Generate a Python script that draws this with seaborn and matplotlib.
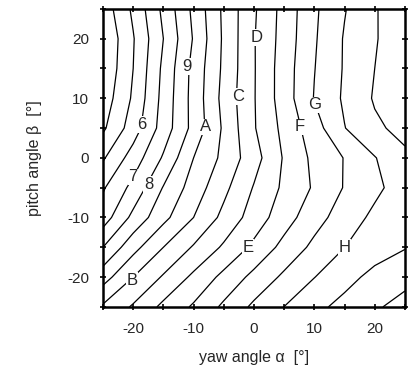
import numpy as np
import pandas as pd
import matplotlib
matplotlib.use("Agg")
import matplotlib.pyplot as plt
from matplotlib.ticker import MultipleLocator
import seaborn as sns

# grid coordinates (degrees)
yaw = [-25, -20, -15, -10, -5, 0, 5, 10, 15, 20, 25]
pitch = [25, 20, 15, 10, 5, 0, -5, -10, -15, -20, -25]

# field values, one row per pitch angle
z_p25 = [3.40, 5.19, 7.24, 9.24, 11.20, 12.87, 14.36, 15.83, 16.94, 17.89, 18.90]
z_p20 = [3.07, 4.93, 7.00, 9.08, 11.16, 12.94, 14.40, 15.89, 17.08, 17.90, 18.80]
z_p15 = [3.15, 5.00, 7.22, 9.32, 11.20, 12.93, 14.50, 15.97, 17.09, 18.00, 18.80]
z_p10 = [3.43, 5.15, 7.33, 9.36, 11.32, 12.94, 14.50, 16.05, 17.15, 18.10, 18.90]
z_p05 = [3.83, 5.50, 7.44, 9.32, 11.16, 12.92, 14.28, 15.57, 16.97, 17.82, 18.30]
z_0 = [4.88, 6.45, 8.12, 10.00, 11.25, 12.60, 14.10, 15.25, 16.04, 16.95, 17.80]
z_m05 = [5.89, 7.30, 9.06, 10.45, 11.74, 13.07, 14.19, 15.12, 16.06, 16.77, 17.50]
z_m10 = [6.50, 8.27, 9.72, 11.00, 12.27, 13.45, 14.56, 15.61, 16.48, 17.22, 17.60]
z_m15 = [8.00, 9.66, 11.00, 12.10, 13.15, 14.22, 15.31, 16.24, 16.99, 17.52, 17.95]
z_m20 = [9.57, 11.00, 12.11, 13.21, 14.27, 15.28, 16.19, 16.98, 17.65, 18.30, 18.65]
z_m25 = [11.15, 12.12, 13.24, 14.13, 15.19, 16.20, 17.01, 17.72, 18.32, 18.85, 19.40]

levels = [4, 5, 6, 7, 8, 9, 10, 11, 12, 13, 14, 15, 16, 17, 18, 19]

# contour labels (text) and where they sit
label_texts = ["6", "7", "8", "9", "A", "B", "C", "D", "E", "F", "G", "H"]
label_x = [-18.6, -20.0, -17.4, -11.1, -8.1, -20.2, -2.6, 0.5, -1.0, 7.6, 10.1, 15.0]
label_y = [5.6, -3.2, -4.5, 15.3, 5.2, -20.5, 10.3, 20.2, -15.0, 5.2, 8.9, -15.0]

x_ticks = [-20, -10, 0, 10, 20]
y_ticks = [-20, -10, 0, 10, 20]

rows = [z_p25, z_p20, z_p15, z_p10, z_p05, z_0, z_m05, z_m10, z_m15, z_m20, z_m25]
df = pd.DataFrame(rows, index=pitch, columns=yaw)

sns.set_theme(style="ticks")
plt.rcParams["font.family"] = ["Liberation Sans", "DejaVu Sans"]
plt.rcParams["axes.unicode_minus"] = False

fig = plt.figure(figsize=(4.17, 3.87), dpi=100)
ax = fig.add_axes([0.247, 0.207, 0.724, 0.770])

cs = ax.contour(df.columns.values, df.index.values, df.values,
                levels=levels, colors="black", linewidths=0.9)

for t, x, y in zip(label_texts, label_x, label_y):
    ax.text(x, y, t, ha="center", va="center", fontsize=12, zorder=5,
            bbox=dict(boxstyle="square,pad=0.05", fc="white", ec="none"))

ax.set_xlim(-25, 25)
ax.set_ylim(-25, 25)
ax.set_xticks(x_ticks)
ax.set_yticks(y_ticks)
ax.xaxis.set_minor_locator(MultipleLocator(5))
ax.yaxis.set_minor_locator(MultipleLocator(5))
ax.tick_params(which="both", top=True, right=True, direction="inout",
               length=4, width=1.2, color="black", labelsize=11)
ax.tick_params(axis="x", which="both", pad=9)
ax.tick_params(axis="y", which="both", pad=8)
for s in ax.spines.values():
    s.set_linewidth(1.8)
    s.set_color("black")

ax.set_xlabel("yaw angle α  [°]", fontsize=11.5, labelpad=10)
ax.set_ylabel("pitch angle β  [°]", fontsize=11.5, labelpad=18)

fig.savefig("out.png", dpi=100)
